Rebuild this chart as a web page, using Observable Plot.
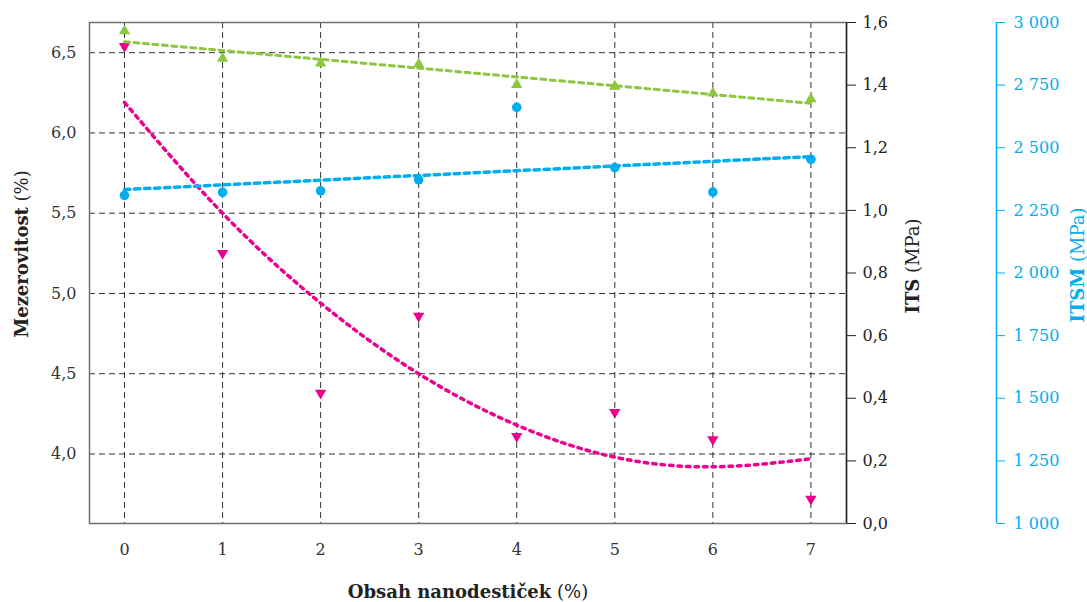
<!DOCTYPE html>
<html>
<head>
<meta charset="utf-8">
<script src="https://cdn.jsdelivr.net/npm/d3@7"></script>
<script src="https://cdn.jsdelivr.net/npm/@observablehq/plot@0.6"></script>
<style>
  body { margin: 0; background: #fff; }
  #chart { position: relative; width: 1087px; height: 602px; font-family: "DejaVu Serif", serif; }
  #chart > svg { position: absolute; left: 0; top: 0; }
  #chart svg text { font-family: "DejaVu Serif", serif; }
</style>
</head>
<body>
<div id="chart"></div>
<script>
// ---- data ----
const nanoContent = [0, 1, 2, 3, 4, 5, 6, 7];                       // Obsah nanodestiček (%)
const mezerovitost = [6.54, 5.25, 4.38, 4.86, 4.11, 4.26, 4.09, 3.72]; // Mezerovitost (%)
const mezerovitostTrend = [6.19, 5.50, 4.94, 4.50, 4.18, 3.98, 3.92, 3.97];
const its = [1.573, 1.485, 1.470, 1.467, 1.401, 1.396, 1.374, 1.356]; // ITS (MPa)
const itsm = [2310, 2322, 2328, 2372, 2661, 2421, 2323, 2454];        // ITSM (MPa)

const mezTicks = [4.0, 4.5, 5.0, 5.5, 6.0, 6.5];
const itsTicks = [0, 0.2, 0.4, 0.6, 0.8, 1.0, 1.2, 1.4, 1.6];
const itsmTicks = [1000, 1250, 1500, 1750, 2000, 2250, 2500, 2750, 3000];

const xDomain = [-0.357, 7.363];
const mezDomain = [3.567, 6.688];
const itsDomain = [0, 1.6];
const itsmDomain = [1000, 3000];

// ---- styles ----
const PINK = "#EC008C", GREEN = "#8DC63F", CYAN = "#00AEEF";
const FONT = "DejaVu Serif, serif";
const fmtComma = d => d.toFixed(1).replace(".", ",");
const fmtSpace = d => String(d).replace(/\B(?=(\d{3})+$)/g, " ");

const poro = nanoContent.map((x, i) => ({x, y: mezerovitost[i], trend: mezerovitostTrend[i]}));
const itsData = nanoContent.map((x, i) => ({x, y: its[i]}));
const itsmData = nanoContent.map((x, i) => ({x, y: itsm[i]}));

const triangleDown = {
  draw(context, size) {
    const y = Math.sqrt(size / (3 * Math.sqrt(3)));
    context.moveTo(0, 2 * y);
    context.lineTo(Math.sqrt(3) * y, -y);
    context.lineTo(-Math.sqrt(3) * y, -y);
    context.closePath();
  }
};

const base = (color) => ({
  width: 1087, height: 602,
  marginTop: 22, marginRight: 241, marginBottom: 79, marginLeft: 89,
  style: {background: "transparent", fontFamily: FONT, fontSize: "16px", color, overflow: "visible"}
});

const chartA = Plot.plot({
  ...base("#333"),
  x: {domain: xDomain},
  y: {domain: mezDomain},
  marks: [
    Plot.gridY(mezTicks, {stroke: "#333", strokeOpacity: 1, strokeWidth: 1, strokeDasharray: "6,4"}),
    Plot.gridX(nanoContent, {stroke: "#333", strokeOpacity: 1, strokeWidth: 1, strokeDasharray: "6,4"}),
    Plot.frame({stroke: "#707070", strokeWidth: 1.5}),
    Plot.axisX(nanoContent, {tickSize: 0, tickPadding: 20, label: null, tickFormat: d => String(d), fontFamily: FONT}),
    Plot.axisY(mezTicks, {tickSize: 0, tickPadding: 13, label: null, tickFormat: fmtComma, fontFamily: FONT}),
    Plot.line(poro, {x: "x", y: "trend", curve: "natural", stroke: PINK, strokeWidth: 3.5, strokeDasharray: "3.5,5"}),
    Plot.dot(poro, {x: "x", y: "y", symbol: triangleDown, r: 4.2, fill: PINK, stroke: "none"})
  ]
});

const chartB = Plot.plot({
  ...base("#222"),
  x: {domain: xDomain, axis: null},
  y: {domain: itsDomain},
  marks: [
    Plot.ruleX([xDomain[1]], {stroke: "#222", strokeWidth: 1.4}),
    Plot.axisY(itsTicks, {anchor: "right", tickSize: 9, tickPadding: 7, label: null, tickFormat: fmtComma, fontFamily: FONT}),
    Plot.linearRegressionY(itsData, {x: "x", y: "y", ci: 0, stroke: GREEN, strokeWidth: 3, strokeDasharray: "5,4.5"}),
    Plot.dot(itsData, {x: "x", y: "y", symbol: "triangle", r: 4.2, fill: GREEN, stroke: "none"})
  ]
});

const chartC = Plot.plot({
  ...base(CYAN),
  x: {domain: xDomain, axis: null},
  y: {domain: itsmDomain},
  marks: [
    Plot.ruleX([xDomain[1]], {dx: 150, stroke: CYAN, strokeWidth: 1.5}),
    Plot.axisY(itsmTicks, {anchor: "right", dx: 150, tickSize: 8, tickPadding: 9, label: null, tickFormat: fmtSpace, fontFamily: FONT}),
    Plot.linearRegressionY(itsmData, {x: "x", y: "y", ci: 0, stroke: CYAN, strokeWidth: 3.5, strokeDasharray: "5.5,4.5"}),
    Plot.dot(itsmData, {x: "x", y: "y", r: 4.8, fill: CYAN, stroke: "none"})
  ]
});

const chart = document.getElementById("chart");
chart.append(chartA, chartB, chartC);

// axis titles (text overlay)
const ns = "http://www.w3.org/2000/svg";
const labels = document.createElementNS(ns, "svg");
labels.setAttribute("width", 1087);
labels.setAttribute("height", 602);
labels.style.fontSize = "18px";
labels.innerHTML = `
  <text x="468" y="598" text-anchor="middle" fill="#222"><tspan font-weight="bold">Obsah nanodestiček</tspan> (%)</text>
  <text transform="translate(28,254) rotate(-90)" text-anchor="middle" fill="#222"><tspan font-weight="bold">Mezerovitost</tspan> (%)</text>
  <text transform="translate(919,266) rotate(-90)" text-anchor="middle" fill="#222"><tspan font-weight="bold">ITS</tspan> (MPa)</text>
  <text transform="translate(1084,265) rotate(-90)" text-anchor="middle" fill="${CYAN}"><tspan font-weight="bold">ITSM</tspan> (MPa)</text>`;
chart.append(labels);
</script>
</body>
</html>
